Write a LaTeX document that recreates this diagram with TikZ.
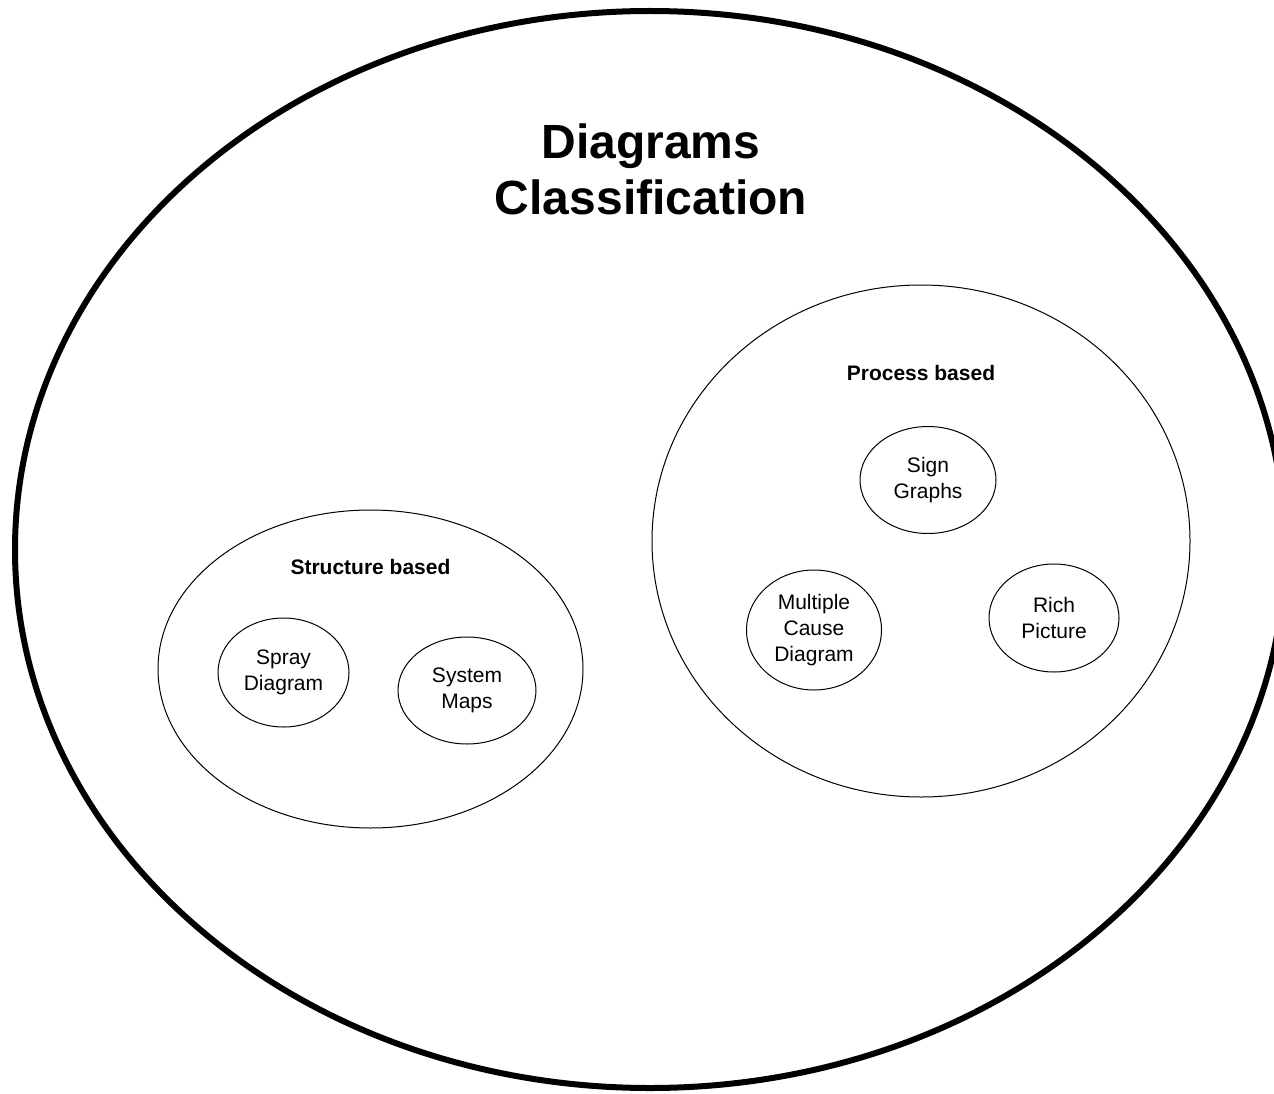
\documentclass[tikz,border=0pt]{standalone}
\usepackage{fontspec}
\setmainfont{Liberation Sans}
\usetikzlibrary{shapes.geometric}
\begin{document}
\begin{tikzpicture}[x=1pt,y=-1pt,
  outerell/.style={draw, ellipse, line width=6pt, inner sep=0pt},
  groupell/.style={draw, ellipse, line width=1pt, inner sep=0pt},
  itemell/.style={draw, ellipse, line width=1pt, inner sep=0pt, align=center,
    font=\fontsize{21pt}{26pt}\selectfont},
  grouplabel/.style={anchor=base, font=\fontsize{21pt}{26pt}\selectfont\bfseries},
  titletext/.style={align=center, font=\fontsize{48pt}{56pt}\selectfont\bfseries}
]
\useasboundingbox (0,0) rectangle (1274,1094);
\clip (0,0) rectangle (1274,1094);
\fill[white] (0,0) rectangle (1274,1094);
% outer ellipse
\node[outerell, minimum width=1270pt, minimum height=1077pt] (all) at (650,549.5) {};
\node[titletext] (title) at (651,169) {Diagrams\\Classification};
% structure based
\node[groupell, minimum width=425pt, minimum height=318pt] (struct) at (370.5,669) {};
\node[grouplabel] (structlbl) at (370.5,574) {Structure based};
\node[itemell, minimum width=131pt, minimum height=109pt] (spray) at (283.5,672.5) {Spray\\Diagram};
\node[itemell, minimum width=138pt, minimum height=107pt] (sysmaps) at (467,690.5) {System\\Maps};
% process based
\node[groupell, minimum width=538pt, minimum height=512pt] (proc) at (921,541) {};
\node[grouplabel] (proclbl) at (921,380) {Process based};
\node[itemell, minimum width=136pt, minimum height=107pt] (sign) at (928,480) {Sign\\Graphs};
\node[itemell, minimum width=135pt, minimum height=120pt] (mcd) at (814,630) {Multiple\\Cause\\Diagram};
\node[itemell, minimum width=130pt, minimum height=108pt] (rich) at (1054,618) {Rich\\Picture};
\end{tikzpicture}
\end{document}
